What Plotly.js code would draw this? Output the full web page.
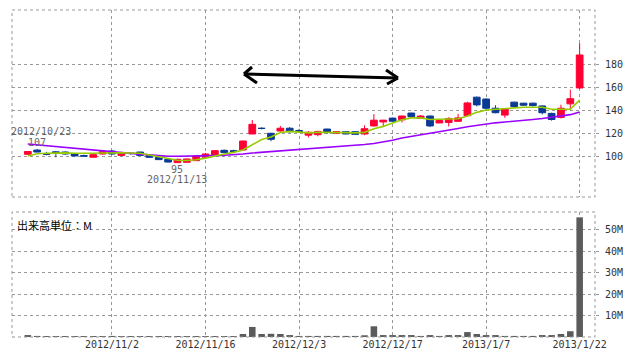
<!DOCTYPE html>
<html><head><meta charset="utf-8">
<script src="https://cdn.plot.ly/plotly-3.0.1.min.js"></script>
<style>html,body{margin:0;padding:0;background:#fff}#chart{width:638px;height:362px}</style>
</head><body><div id="chart"></div>
<script>
const dates=['2012/10/22','2012/10/23','2012/10/24','2012/10/25','2012/10/26','2012/10/29','2012/10/30','2012/10/31','2012/11/1','2012/11/2',
'2012/11/5','2012/11/6','2012/11/7','2012/11/8','2012/11/9','2012/11/12','2012/11/13','2012/11/14','2012/11/15','2012/11/16',
'2012/11/19','2012/11/20','2012/11/21','2012/11/22','2012/11/26','2012/11/27','2012/11/28','2012/11/29','2012/11/30','2012/12/3',
'2012/12/4','2012/12/5','2012/12/6','2012/12/7','2012/12/10','2012/12/11','2012/12/12','2012/12/13','2012/12/14','2012/12/17',
'2012/12/18','2012/12/19','2012/12/20','2012/12/21','2012/12/25','2012/12/26','2012/12/27','2012/12/28','2013/1/4','2013/1/7',
'2013/1/8','2013/1/9','2013/1/10','2013/1/11','2013/1/15','2013/1/16','2013/1/17','2013/1/18','2013/1/21','2013/1/22'];
const openP=[102.3,106,102.8,104.5,104.3,102.6,101.2,99.8,102.6,105.2,
101.4,103.3,104.3,101.4,99.7,98,95.1,95.4,96.8,99.7,
101.4,105.8,105.5,106.1,120,125,120.6,122.6,125,123,
119,119.4,124.3,120.6,122,122,120,127,130.5,133.8,
132.3,138.2,133.5,135.6,129.6,130,131,135.9,152,150.4,
142.4,136.4,147.7,146.8,146.8,144.4,137.9,134.4,146.2,160];
const highP=[105,107,104.5,105,105,103.5,102,102.3,105,106,
104.5,104,104.5,102,100,98.5,98.5,98.5,101.5,103.5,
106,106.5,106.3,114.2,132.2,125.8,121,127,126,124.5,
122.5,122.8,124.5,122.5,122.4,122.2,127.5,137.3,132.3,134.2,
136,138.5,136.5,136,132,134.5,137.5,148,152.5,150.8,
145,142.3,148,147,147.3,145,138.5,145.5,158.5,199];
const lowP=[102,104,101.5,99.7,102,100.5,100.5,99.7,102,102,
100.5,102,101,99.5,97.5,95.3,95,95.2,96.5,99.5,
101,103.5,104,105.8,120,124,113.7,122,121.5,121.5,
117,118,120,120,119.8,119.5,119,126.5,126,130.5,
130,134,133,126,129.4,126.5,131,135.6,144,141,
138,134,143,144.5,143.8,137,131.6,133.5,142,159];
const closeP=[104.8,104.3,102.4,103.5,102.6,100.9,100.8,102,104.6,102.6,
103.8,103,101.4,99.7,97.7,95.6,98,98.3,100.9,102.6,
105.5,103.8,104.9,113.9,128.4,124.8,115.4,125,122,122,
121.5,122.2,121.3,122,120,119.7,124.6,132,132,131.1,
135.6,135,135.6,127,131.7,133.5,134,147,145.3,142.4,
138.5,142,143.9,145,144.7,138.5,132.6,142.4,150.7,188.7];
const ma5=[100.9,102.8,103.2,103.5,103.6,103.3,103.0,103.2,103.5,103.8,
103.6,103.5,103.3,101.8,100.3,98.8,97.2,97.0,97.6,99.0,
100.9,102.6,104.0,106.1,110.6,115.2,117.3,121.3,122.3,121.7,
121.0,121.5,121.6,121.3,121.2,121.0,121.4,124.5,126.6,129.6,
132.4,134.0,134.0,132.6,132.9,132.9,133.2,135.6,138.8,140.9,
141.5,142.6,143.0,143.3,143.3,143.2,141.5,141.2,141.5,149.5];
const ma25=[111.3,110.5,109.9,109.2,108.3,107.6,106.8,106.0,105.3,104.5,
103.9,103.1,102.5,101.8,101.2,100.7,100.6,100.6,100.6,100.8,
101.2,101.5,101.8,102.6,103.5,104.1,104.6,105.2,105.8,106.5,
107.1,107.5,108.2,108.8,109.5,110.0,110.8,111.8,113.0,114.5,
116.5,117.8,119.0,120.5,122.0,123.5,124.8,126.3,127.5,128.8,
129.7,130.4,131.0,131.8,132.6,133.5,134.8,135.8,136.8,139.1];
const volumeM=[0.9,0.5,0.45,0.45,0.45,0.45,0.45,0.45,0.45,0.5,
0.45,0.45,0.45,0.45,0.45,0.45,0.45,0.45,0.45,0.45,
0.45,0.45,0.45,1.4,4.7,1.4,1.5,1.4,0.9,0.5,
0.5,0.5,0.5,0.5,0.5,0.5,0.8,5.0,0.9,0.9,
0.9,0.9,0.5,0.9,0.5,0.9,0.9,2.3,1.4,0.9,
0.9,0.5,0.5,0.5,0.5,0.9,0.9,1.4,2.7,55.9];
const xTickVals=['2012/11/2','2012/11/16','2012/12/3','2012/12/17','2013/1/7','2013/1/22'];
const priceTicks=[100,120,140,160,180];
const volTicks=[10,20,30,40,50];
const volTickText=['10M','20M','30M','40M','50M'];

const RED='#ff0033', BLUE='#0b3a94';
const monoFont={family:'DejaVu Sans Mono, monospace',size:10,color:'#333'};
const grid={showgrid:true,gridcolor:'#999',griddash:'dot',gridwidth:1,zeroline:false,showline:false};

const traces=[
 {type:'bar',x:dates,y:volumeM,xaxis:'x',yaxis:'y',marker:{color:'#5b5b5b'},width:0.7,hoverinfo:'skip'},
 {type:'candlestick',x:dates,open:openP,high:highP,low:lowP,close:closeP,xaxis:'x',yaxis:'y2',whiskerwidth:0,
  increasing:{line:{color:RED,width:1},fillcolor:RED},decreasing:{line:{color:BLUE,width:1},fillcolor:BLUE}},
 {type:'scatter',mode:'lines',x:dates,y:ma25,xaxis:'x',yaxis:'y2',line:{color:'#9a00ff',width:1.6}},
 {type:'scatter',mode:'lines',x:dates,y:ma5,xaxis:'x',yaxis:'y2',line:{color:'#99cc00',width:1.6}}
];

function P(px,py){return [(px-12)/583,(337-py)/327];}
function seg(a,b){const p=P(a[0],a[1]),q=P(b[0],b[1]);
 return {type:'line',xref:'paper',yref:'paper',x0:p[0],y0:p[1],x1:q[0],y1:q[1],line:{color:'#000',width:3}};}

const layout={
 width:638,height:362,margin:{l:12,r:43,t:10,b:25},
 paper_bgcolor:'#fff',plot_bgcolor:'#fff',showlegend:false,
 boxgap:0.28,boxgroupgap:0,
 xaxis:Object.assign({},grid,{type:'category',range:[-1.69,60.64],tickvals:xTickVals,ticktext:xTickVals,ticks:'',
   tickfont:monoFont,rangeslider:{visible:false},anchor:'y',fixedrange:true}),
 yaxis:Object.assign({},grid,{domain:[0,0.3823],range:[0,58.4],side:'right',anchor:'x',tickvals:volTicks,ticktext:volTickText,
   ticks:'outside',ticklen:3,tickcolor:'#999',tickfont:monoFont,ticklabelstandoff:4}),
 yaxis2:Object.assign({},grid,{domain:[0.4281,1],range:[65.2,227.8],side:'right',anchor:'x',tickvals:priceTicks,
   ticks:'outside',ticklen:3,tickcolor:'#999',tickfont:monoFont,ticklabelstandoff:4}),
 shapes:[
  {type:'rect',xref:'paper',yref:'y domain',x0:0,x1:1,y0:0,y1:1,line:{color:'#999',width:1,dash:'dot'}},
  {type:'rect',xref:'paper',yref:'y2 domain',x0:0,x1:1,y0:0,y1:1,line:{color:'#999',width:1,dash:'dot'}},
  seg([244,74],[320,76]),seg([320,76],[398,78]),
  seg([244,74],[252,67]),seg([244,74],[257,83]),
  seg([398,78],[386,70]),seg([398,78],[387,84])
 ],
 annotations:[
  {xref:'x',yref:'y2',x:'2012/10/23',y:107,text:'2012/10/23',showarrow:false,yshift:17,xshift:4,font:{family:'DejaVu Sans Mono, monospace',size:10,color:'#666'}},
  {xref:'x',yref:'y2',x:'2012/10/23',y:107,text:'107',showarrow:false,yshift:6,font:{family:'DejaVu Sans Mono, monospace',size:10,color:'#666'}},
  {xref:'x',yref:'y2',x:'2012/11/13',y:95,text:'95',showarrow:false,yshift:-7,font:{family:'DejaVu Sans Mono, monospace',size:10,color:'#666'}},
  {xref:'x',yref:'y2',x:'2012/11/13',y:95,text:'2012/11/13',showarrow:false,yshift:-17,font:{family:'DejaVu Sans Mono, monospace',size:10,color:'#666'}},
  {xref:'paper',yref:'y domain',x:0,y:1,xanchor:'left',yanchor:'top',xshift:3,yshift:-3,text:'出来高単位：M',showarrow:false,
   font:{family:'Noto Sans CJK JP',size:11,color:'#000'}}
 ]
};
Plotly.newPlot('chart',traces,layout,{displayModeBar:false,staticPlot:true});
</script></body></html>
